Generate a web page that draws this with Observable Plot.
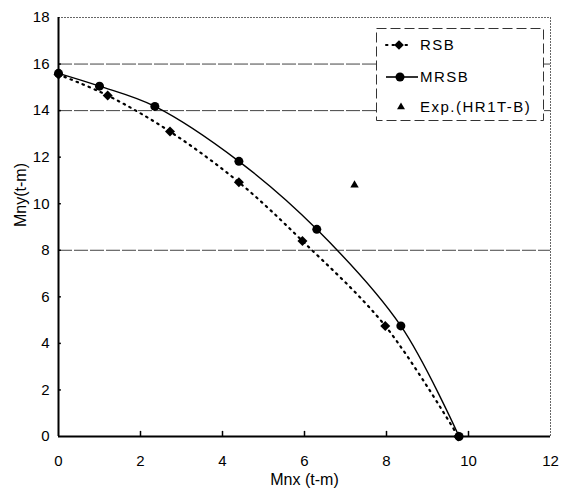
<!DOCTYPE html>
<html>
<head>
<meta charset="utf-8">
<script src="https://cdn.jsdelivr.net/npm/d3@7"></script>
<script src="https://cdn.jsdelivr.net/npm/@observablehq/plot@0.6"></script>
<style>
  body { margin: 0; background: #fff; }
  #wrap { position: relative; width: 571px; height: 500px; font-family: "Liberation Sans", Arial, sans-serif; }
  #legend { position: absolute; left: 376px; top: 28px; width: 168px; height: 93px; background: #fff; }
</style>
</head>
<body>
<div id="wrap"><div id="chart"></div><div id="legend"></div></div>
<script>
// Data
const rsbX = [0, 1.2, 2.72, 4.4, 5.95, 7.97, 9.75];
const rsbY = [15.55, 14.65, 13.1, 10.92, 8.4, 4.75, 0];
const mrsbX = [0, 1.0, 2.35, 4.4, 6.3, 8.35, 9.77];
const mrsbY = [15.6, 15.05, 14.18, 11.82, 8.9, 4.75, 0];
const expX = [7.22];
const expY = [10.8];
const xTicks = [0, 2, 4, 6, 8, 10, 12];
const yTicks = [0, 2, 4, 6, 8, 10, 12, 14, 16, 18];
const gridY = [16, 14, 8];
const seriesNames = ["RSB", "MRSB", "Exp.(HR1T-B)"];

const rsb = rsbX.map((x, i) => ({x, y: rsbY[i]}));
const mrsb = mrsbX.map((x, i) => ({x, y: mrsbY[i]}));
const exp = expX.map((x, i) => ({x, y: expY[i]}));

const chart = Plot.plot({
  width: 571,
  height: 500,
  marginLeft: 58,
  marginRight: 21,
  marginTop: 17,
  marginBottom: 64,
  style: {fontFamily: "Liberation Sans, Arial, sans-serif", fontSize: "15px", color: "#000", background: "#fff"},
  x: {domain: [0, 12], label: null},
  y: {domain: [0, 18], label: null},
  marks: [
    Plot.axisX(xTicks, {tickSize: 0, tickPadding: 19, fontSize: 15, fill: "#000", label: null}),
    Plot.axisY(yTicks, {tickSize: 0, tickPadding: 9, fontSize: 15, fill: "#000", label: null}),
    Plot.ruleY(gridY, {stroke: "#444", strokeWidth: 1, strokeDasharray: "14,2"}),
    Plot.ruleY([18], {stroke: "#666", strokeWidth: 1, strokeDasharray: "2,1"}),
    Plot.ruleX([12], {stroke: "#666", strokeWidth: 1, strokeDasharray: "2,1"}),
    Plot.ruleX(xTicks.filter(d => d > 0 && d < 12), {y1: 0, y2: 0.22, stroke: "#000", strokeWidth: 1.5}),
    Plot.ruleY(yTicks.filter(d => d > 0 && d < 18), {x1: 0, x2: 0.07, stroke: "#000", strokeWidth: 1.5}),
    Plot.line(rsb, {x: "x", y: "y", curve: "catmull-rom", stroke: "#000", strokeWidth: 2.2, strokeDasharray: "1.5,5", strokeLinecap: "round"}),
    Plot.line(mrsb, {x: "x", y: "y", curve: "catmull-rom", stroke: "#000", strokeWidth: 1.4}),
    Plot.ruleX([0], {stroke: "#000", strokeWidth: 2}),
    Plot.ruleY([0], {stroke: "#000", strokeWidth: 2}),
    Plot.dot(rsb, {x: "x", y: "y", symbol: "diamond2", r: 4.5, fill: "#000", stroke: "none"}),
    Plot.dot(mrsb, {x: "x", y: "y", symbol: "circle", r: 4.5, fill: "#000", stroke: "none"}),
    Plot.dot(exp, {x: "x", y: "y", symbol: "triangle2", r: 4, fill: "#000", stroke: "none"}),
    Plot.text(["Mny(t-m)"], {frameAnchor: "left", dx: -38, rotate: -90, fontSize: 16, fill: "#000"}),
    Plot.text(["Mnx (t-m)"], {frameAnchor: "bottom", dy: 48, fontSize: 16, fill: "#000", letterSpacing: "0.5px"})
  ]
});
document.getElementById("chart").appendChild(chart);

// Legend (HTML overlay)
const lg = d3.select("#legend").append("svg").attr("width", 168).attr("height", 93);
lg.append("rect").attr("x", 0.5).attr("y", 0.5).attr("width", 167).attr("height", 92)
  .attr("fill", "#fff").attr("stroke", "#333").attr("stroke-width", 1).attr("stroke-dasharray", "10,4");
const rowsY = [17, 49, 79];
// RSB
lg.append("line").attr("x1", 10).attr("x2", 36).attr("y1", rowsY[0]).attr("y2", rowsY[0])
  .attr("stroke", "#000").attr("stroke-width", 2).attr("stroke-dasharray", "1.5,5").attr("stroke-linecap", "round");
lg.append("path").attr("d", d3.symbol(d3.symbolDiamond2, 60)()).attr("transform", `translate(23,${rowsY[0]})`).attr("fill", "#000");
// MRSB
lg.append("line").attr("x1", 10).attr("x2", 42).attr("y1", rowsY[1]).attr("y2", rowsY[1]).attr("stroke", "#000").attr("stroke-width", 1.6);
lg.append("circle").attr("cx", 24).attr("cy", rowsY[1]).attr("r", 4.5).attr("fill", "#000");
// Exp
lg.append("path").attr("d", d3.symbol(d3.symbolTriangle2, 45)()).attr("transform", `translate(25,${rowsY[2]})`).attr("fill", "#000");
seriesNames.forEach((name, i) => {
  lg.append("text").attr("x", 44).attr("y", rowsY[i]).attr("dy", "0.36em")
    .attr("font-family", "Liberation Sans, Arial, sans-serif").attr("font-size", 15)
    .attr("letter-spacing", "1.5px").attr("fill", "#000").text(name);
});
</script>
</body>
</html>
